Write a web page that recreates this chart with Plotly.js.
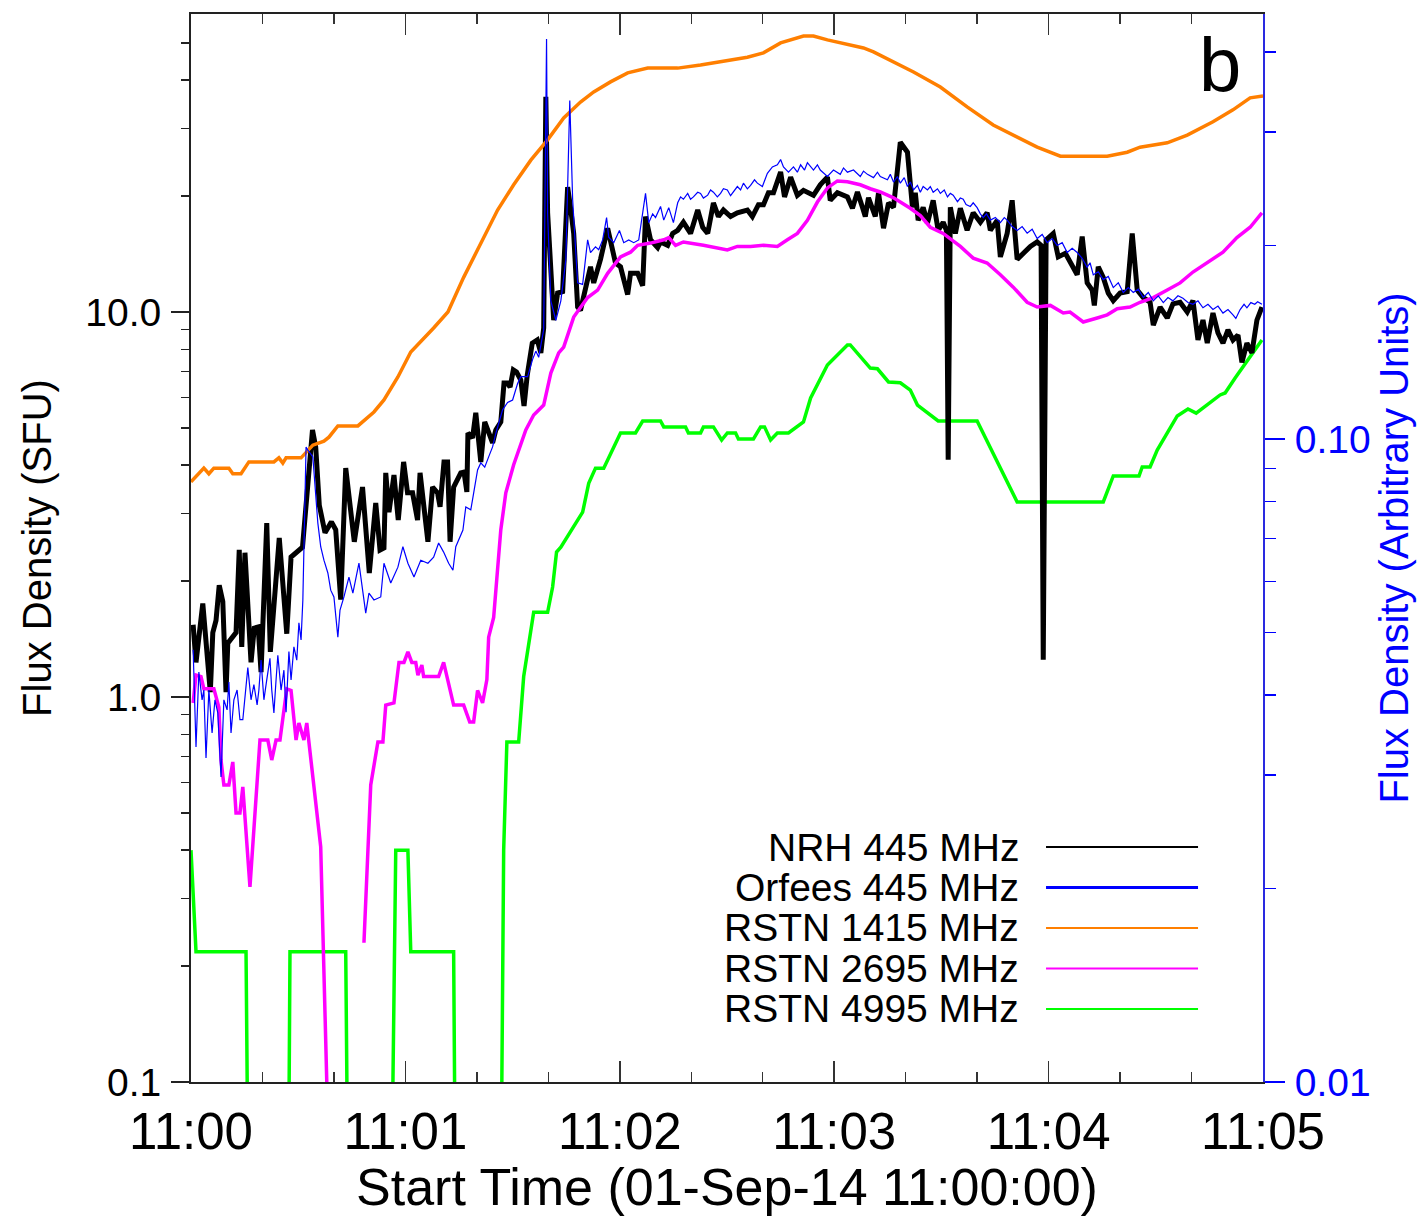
<!DOCTYPE html>
<html>
<head>
<meta charset="utf-8">
<script src="https://cdn.plot.ly/plotly-3.0.1.min.js"></script>
<style>
html,body{margin:0;padding:0;background:#ffffff;}
#chart{width:1420px;height:1216px;}
</style>
</head>
<body>
<div id="chart"></div>
<script>
// ---- data: [seconds after 11:00:00, flux] ----
const nrh445 = [[0.6,1.54],[1.4,1.23],[3.3,1.75],[5.4,1.03],[6.1,1.47],[7.0,1.58],[7.9,1.95],[8.9,1.77],[9.8,1.03],[10.3,1.38],
[12.6,1.47],[13.5,2.41],[14.2,1.35],[15.1,2.37],[16.8,1.23],[17.7,1.51],[18.8,1.52],[19.6,1.16],[21.2,2.83],[22.2,1.31],
[24.7,2.59],[26.8,1.46],[28.0,2.31],[29.4,2.38],[31.2,2.45],[34.0,4.94],[34.9,4.46],[35.9,3.15],[37.5,2.67],[39.3,2.85],
[40.5,2.72],[41.9,1.79],[43.3,3.93],[45.7,2.53],[48.0,3.51],[49.9,2.10],[51.7,3.19],[52.9,2.41],[54.0,2.44],[54.5,3.82],
[55.4,3.02],[56.8,3.77],[58.0,2.88],[59.5,4.08],[60.6,3.39],[62.0,3.39],[63.4,2.88],[64.1,3.82],[65.1,3.19],[66.3,2.53],
[67.6,3.51],[69.0,3.39],[69.7,3.12],[70.8,4.08],[71.8,4.08],[72.5,2.53],[73.5,3.51],[75.5,3.82],[76.4,3.84],[77.2,3.41],
[77.5,4.85],[78.8,4.71],[79.7,5.47],[81.1,4.08],[82.2,5.18],[83.7,4.79],[84.4,4.57],[85.3,4.94],[86.7,5.18],[87.6,6.54],
[88.5,6.54],[89.3,6.38],[90.2,7.07],[91.1,6.98],[92.3,6.66],[93.2,5.70],[94.1,6.86],[95.5,8.30],[96.9,8.46],[97.9,7.83],
[98.7,9.09],[99.3,36.2],[99.8,18.1],[101.5,9.53],[102.6,11.2],[104.0,11.3],[105.4,21.1],[106.2,18.7],[107.1,16.0],[108.2,10.3],[109.0,10.1],
[111.8,13.1],[112.7,11.9],[114.6,13.7],[116.6,16.5],[118.8,13.4],[120.2,13.1],[122.2,11.1],[123.0,12.6],[125.0,12.6],[126.4,11.7],
[127.2,17.7],[128.6,15.4],[130.6,14.7],[131.4,15.2],[133.4,14.9],[134.8,16.0],[136.2,16.3],[137.8,17.1],[139.8,16.0],[141.8,18.4],
[143.2,16.6],[144.6,16.0],[146.2,19.2],[147.6,17.7],[149.0,18.4],[151.0,17.7],[152.9,18.1],[155.7,18.4],[157.1,17.7],[158.8,19.0],
[160.2,19.0],[161.6,20.4],[163.0,20.4],[165.0,23.1],[166.1,19.9],[167.8,22.4],[169.7,20.1],[171.4,20.7],[174.2,20.1],[176.1,21.4],
[178.1,22.4],[178.9,19.5],[180.9,20.4],[183.7,19.9],[185.1,18.6],[186.5,20.5],[187.9,18.7],[188.7,17.7],[189.6,19.8],[191.5,17.7],
[192.4,20.4],[193.8,16.5],[195.2,19.2],[196.6,18.7],[198.5,27.6],[200.5,26.0],[201.9,18.7],[202.7,20.4],[203.5,17.3],[204.9,18.7],
[206.1,17.0],[207.7,19.5],[209.1,16.3],[210.5,17.1],[211.4,16.3],[211.9,4.13],[212.5,18.7],[213.9,16.0],[215.3,18.6],[217.2,16.3],
[218.9,18.1],[220.9,17.1],[222.8,18.1],[223.7,16.3],[225.6,17.3],[226.5,13.9],[228.4,16.0],[229.8,19.5],[231.2,13.7],[232.9,14.2],
[234.9,14.8],[236.8,15.2],[237.9,14.9],[238.5,1.25],[239.3,15.4],[241.3,16.0],[242.7,13.9],[244.7,14.2],[246.6,13.1],[248.0,12.5],
[249.4,15.7],[250.8,11.9],[252.2,11.4],[252.8,10.4],[253.9,13.1],[255.3,12.3],[256.7,11.2],[258.1,10.7],[260.0,11.2],[262.0,11.3],
[263.4,16.0],[264.8,11.4],[266.5,10.9],[268.4,10.6],[269.3,9.25],[271.2,10.3],[273.2,9.65],[274.8,10.5],[276.8,10.6],[278.8,10.0],
[280.4,10.7],[281.8,8.46],[283.2,9.53],[284.4,8.30],[286.0,9.94],[287.4,8.82],[288.8,8.30],[290.2,8.98],[291.6,8.46],[293.0,8.71],
[294.1,7.4],[295.5,8.30],[296.9,7.83],[298.3,9.53],[299.7,10.3]];

// Orfees 445 MHz, arbitrary units (right axis)
const orfees445 = [[0.6,0.0470],[1.4,0.0332],[2.2,0.0434],[3.1,0.0393],[3.6,0.0407],[4.2,0.0319],[5.0,0.0407],[5.9,0.0349],[6.7,0.0393],[7.5,0.0375],
[8.4,0.0298],[9.2,0.0393],[10.1,0.0379],[10.6,0.0419],[11.2,0.0349],[12.0,0.0393],[12.9,0.0407],[13.7,0.0366],[14.5,0.0366],[15.4,0.0407],
[15.9,0.0441],[16.8,0.0393],[17.6,0.0415],[18.5,0.0386],[19.0,0.0407],[19.6,0.0453],[20.4,0.0393],[21.2,0.0422],[22.1,0.0456],[22.6,0.0407],
[23.2,0.0375],[23.8,0.0422],[24.3,0.0461],[25.2,0.0407],[26.0,0.0437],[26.6,0.0376],[27.4,0.0467],[28.0,0.0422],[28.8,0.0475],[29.6,0.0453],
[30.2,0.0518],[30.8,0.0487],[31.3,0.0562],[32.2,0.0972],[32.7,0.0961],[34.1,0.0938],[35.5,0.0740],[36.3,0.0680],[37.2,0.0648],[38.3,0.0619],
[39.1,0.0582],[40.0,0.0568],[41.1,0.0492],[41.7,0.0542],[42.8,0.0568],[44.2,0.0610],[45.3,0.0576],[47.0,0.0641],[48.1,0.0582],[48.9,0.0536],
[49.8,0.0576],[51.2,0.0562],[53.1,0.0568],[54.0,0.0641],[55.9,0.0597],[57.9,0.0632],[59.3,0.0680],[60.7,0.0641],[62.4,0.0610],[64.3,0.0648],
[66.3,0.0641],[67.9,0.0655],[69.3,0.0689],[70.7,0.0667],[72.1,0.0641],[73.3,0.0625],[74.1,0.0680],[76.1,0.0722],[76.9,0.0784],[78.3,0.0776],
[79.1,0.0824],[80.2,0.0895],[81.1,0.0918],[82.2,0.0904],[83.3,0.0938],[84.4,0.0972],[85.3,0.102],[86.1,0.106],[87.2,0.111],[88.6,0.114],
[90.0,0.115],[91.4,0.122],[92.3,0.125],[94.2,0.125],[95.6,0.133],[96.5,0.137],[97.3,0.134],[98.7,0.148],[99.5,0.419],[99.8,0.224],
[100.7,0.164],[102.1,0.153],[103.5,0.164],[104.9,0.190],[106.0,0.336],[106.8,0.236],[108.2,0.175],[109.6,0.174],
[111.0,0.204],[111.8,0.195],[113.2,0.199],[114.1,0.197],[115.2,0.204],[116.3,0.221],[116.9,0.206],[118.3,0.202],[119.9,0.211],[121.1,0.202],
[122.5,0.204],[123.9,0.202],[125.3,0.204],[127.2,0.241],[128.1,0.217],[129.2,0.224],[130.0,0.221],[131.4,0.230],[132.3,0.219],[133.7,0.229],
[135.0,0.217],[136.2,0.233],[137.0,0.238],[137.8,0.236],[139.0,0.241],[139.8,0.236],[140.6,0.238],[141.8,0.242],[142.6,0.241],[143.4,0.237],
[144.6,0.2395],[145.4,0.244],[146.2,0.242],[147.3,0.238],[148.2,0.241],[149.0,0.245],[150.1,0.244],[151.0,0.239],[151.8,0.242],[152.9,0.247],
[153.8,0.244],[154.6,0.250],[155.7,0.245],[156.6,0.248],[157.7,0.253],[158.5,0.250],[159.9,0.247],[161.3,0.259],[162.7,0.265],[164.1,0.267],
[165.0,0.272],[165.8,0.265],[167.2,0.260],[168.6,0.265],[169.7,0.260],[170.6,0.267],[171.7,0.262],[172.5,0.269],[174.2,0.262],[175.3,0.267],
[176.1,0.262],[178.1,0.256],[179.8,0.262],[181.7,0.258],[182.6,0.264],[183.7,0.260],[185.4,0.262],[187.3,0.256],[188.2,0.261],[189.3,0.258],
[191.0,0.255],[192.1,0.260],[192.9,0.256],[194.9,0.253],[195.7,0.258],[196.6,0.251],[197.7,0.256],[198.5,0.250],[199.6,0.255],[200.5,0.247],
[201.3,0.251],[202.2,0.244],[203.3,0.248],[204.1,0.242],[204.9,0.247],[206.1,0.244],[206.9,0.247],[207.7,0.242],[208.9,0.245],[209.7,0.241],
[210.8,0.244],[211.7,0.238],[212.5,0.241],[213.3,0.2395],[214.5,0.234],[215.3,0.237],[216.1,0.236],[216.9,0.2315],[218.1,0.230],[218.9,0.233],
[220.0,0.229],[220.9,0.224],[221.7,0.221],[222.6,0.224],[223.7,0.219],[225.1,0.221],[226.5,0.217],[227.6,0.221],[228.4,0.219],[229.8,0.214],
[231.2,0.211],[232.6,0.214],[234.0,0.209],[235.4,0.212],[236.8,0.205],[238.2,0.208],[239.6,0.202],[241.0,0.205],[242.4,0.200],[243.8,0.202],
[245.2,0.195],[246.6,0.198],[248.0,0.195],[249.4,0.191],[250.8,0.185],[251.6,0.188],[252.5,0.180],[253.9,0.182],[255.3,0.177],[256.7,0.179],
[258.1,0.172],[259.5,0.175],[260.9,0.169],[262.3,0.172],[263.7,0.169],[265.1,0.171],[266.5,0.166],[267.9,0.169],[269.3,0.164],[270.7,0.167],
[272.1,0.163],[273.4,0.166],[274.8,0.164],[276.2,0.167],[277.6,0.1655],[279.0,0.163],[280.4,0.162],[281.8,0.164],[283.2,0.160],[284.6,0.162],
[286.0,0.159],[287.4,0.161],[288.8,0.157],[290.2,0.159],[291.6,0.156],[292.4,0.154],[293.6,0.159],[294.7,0.162],[295.5,0.160],[296.6,0.163],
[297.7,0.162],[298.5,0.1635],[299.7,0.162]];

const rstn1415 = [[0,3.62],[3.6,3.93],[5.0,3.80],[6.4,3.93],[10.6,3.93],[11.7,3.80],[14.0,3.80],[16.2,4.08],[23.2,4.08],[24.6,4.18],
[25.7,4.05],[26.6,4.18],[30.8,4.18],[34.1,4.51],[37.2,4.62],[38.6,4.73],[41.1,5.06],[46.7,5.06],[51.2,5.50],[54.0,5.91],
[57.9,6.78],[61.5,7.87],[67.9,9.09],[71.9,10.0],[76.3,12.3],[81.1,15.1],[85.8,18.4],[90.3,21.4],[95.1,24.8],[99.8,28.0],
[104.3,31.9],[109.0,35.1],[112.7,37.3],[117.4,39.6],[122.2,41.8],[127.8,43.0],[136.2,43.0],[142.6,43.8],[150.1,45.1],[155.7,45.9],
[160.2,47.1],[165.0,50.0],[171.4,52.1],[174.2,52.1],[178.1,50.9],[182.6,49.7],[188.2,48.5],[191.0,47.4],[196.6,44.6],[202.2,42.0],
[209.7,38.4],[217.2,34.1],[224.5,30.6],[230.1,28.8],[236.8,26.8],[243.3,25.4],[249.7,25.4],[256.4,25.4],[262.0,26.0],[265.6,26.8],
[273.2,27.5],[278.8,28.8],[286.0,31.2],[291.6,33.5],[296.4,36.0],[300,36.4]];

const rstn2695 = [[0.6,0.965],[1.4,1.14],[2.8,1.13],[3.6,1.05],[6.4,1.05],[7.8,0.94],[8.4,0.686],[9.2,0.591],[10.6,0.591],[11.7,0.678],
[12.6,0.500],[13.7,0.500],[14.5,0.584],[16.5,0.321],[19.3,0.773],[21.5,0.773],[22.6,0.686],[23.8,0.773],[24.9,0.773],[25.7,0.871],
[26.8,1.05],[28.0,1.04],[29.4,0.773],[30.2,0.856],[31.6,0.773],[32.4,0.856],[33.6,0.674],[36.3,0.408],[38.5,0.066],[43.0,null],
[48.4,0.230],[50.3,0.591],[52.3,0.764],[53.7,0.764],[54.5,0.953],[56.8,0.965],[58.2,1.23],[59.6,1.23],[60.7,1.31],[61.8,1.23],
[62.9,1.23],[63.5,1.14],[64.6,1.21],[65.1,1.13],[69.3,1.13],[70.7,1.23],[73.5,0.953],[76.3,0.953],[78.0,0.861],[79.1,0.861],
[80.2,1.04],[81.6,0.965],[82.8,1.11],[83.3,1.43],[84.7,1.61],[86.7,2.72],[88.1,3.39],[90.3,4.01],[93.7,4.94],[95.9,5.40],
[98.7,5.73],[100.7,6.94],[102.9,7.83],[104.3,8.11],[107.1,9.70],[111.0,10.9],[113.8,11.4],[116.6,12.6],[120.2,13.9],[123.0,14.3],
[125.0,14.9],[128.6,15.1],[132.3,15.4],[133.7,15.6],[135.6,14.9],[137.8,15.2],[143.4,14.9],[147.3,14.7],[150.1,14.5],[152.9,14.8],
[156.6,14.8],[160.2,14.9],[164.1,14.8],[166.9,15.4],[169.7,16.0],[172.5,17.3],[175.3,19.3],[178.1,21.0],[180.9,21.9],[183.7,21.8],
[187.3,21.4],[190.1,20.9],[192.9,20.5],[196.6,19.8],[201.3,18.6],[204.1,17.8],[206.9,16.6],[210.5,16.0],[215.3,14.8],[218.9,13.8],
[222.8,13.4],[226.5,12.5],[230.1,11.6],[234.0,10.6],[236.8,10.3],[240.5,10.4],[244.1,9.94],[246.0,10.0],[249.7,9.42],[253.6,9.65],
[256.4,9.83],[259.2,10.2],[262.8,10.3],[265.6,10.6],[269.3,10.9],[273.2,11.4],[276.8,11.9],[280.4,12.7],[284.4,13.4],[288.8,14.3],
[292.7,15.6],[296.4,16.6],[299.7,18.1]];

const rstn4995 = [[0,0.40],[1.4,0.218],[15.4,0.218],[16.4,0.02],[27.0,0.02],[27.7,0.218],[43.3,0.218],[44.3,0.02],[55.6,0.02],[57.3,0.40],
[60.7,0.40],[61.5,0.218],[73.5,0.218],[74.3,0.02],[86.4,0.02],[87.5,0.40],[88.4,0.764],[91.7,0.764],[93.1,1.13],[94.5,1.38],
[95.9,1.66],[99.8,1.66],[101.2,1.93],[102.3,2.38],[103.5,2.45],[109.6,3.02],[111.3,3.59],[113.2,3.93],[115.5,3.93],[120.2,4.85],
[124.4,4.85],[126.4,5.21],[131.4,5.21],[132.3,5.03],[138.4,5.03],[139.2,4.85],[142.6,4.85],[143.4,5.03],[146.2,5.03],[148.5,4.65],
[150.1,4.85],[152.4,4.85],[153.2,4.68],[157.4,4.68],[159.4,5.03],[160.5,5.03],[162.2,4.65],[164.1,4.85],[167.2,4.85],[171.4,5.18],
[173.4,5.98],[178.1,7.28],[183.7,8.21],[184.5,8.21],[190.1,7.15],[192.1,7.12],[195.2,6.58],[198.5,6.55],[201.3,6.27],[203.3,5.73],
[209.1,5.21],[220.0,5.21],[231.2,3.21],[255.3,3.21],[258.1,3.75],[265.3,3.75],[266.2,3.96],[268.4,3.96],[270.4,4.38],[276.0,5.37],
[279.0,5.60],[281.3,5.46],[288.0,6.09],[289.4,6.16],[292.2,6.74],[299.7,8.46]];

const seriesNames = ['NRH 445 MHz','Orfees 445 MHz','RSTN 1415 MHz','RSTN 2695 MHz','RSTN 4995 MHz'];
const timeTickSeconds = [0,60,120,180,240,300];
const timeTickLabels = ['11:00','11:01','11:02','11:03','11:04','11:05'];
const leftTickVals = [0.1,1,10];
const leftTickLabels = ['0.1','1.0','10.0'];
const rightTickVals = [0.01,0.1];
const rightTickLabels = ['0.01','0.10'];
const panelLabel = 'b';
const xTitle = 'Start Time (01-Sep-14 11:00:00)';
const yTitle = 'Flux Density (SFU)';
const y2Title = 'Flux Density (Arbitrary Units)';

// ---- styles ----
const colors = {nrh:'#000000', orf:'#0000ff', r1415:'#ff7f00', r2695:'#ff00ff', r4995:'#00ff00'};
const FONT = 'Liberation Sans, Arial, Helvetica, sans-serif';

function xs(a){return a.map(p=>p[0]);}
function ys(a){return a.map(p=>p[1]);}

const traces = [
  {x:xs(rstn4995), y:ys(rstn4995), mode:'lines', line:{color:colors.r4995,width:3.5}, name:seriesNames[4], connectgaps:false},
  {x:xs(nrh445), y:ys(nrh445), mode:'lines', line:{color:colors.nrh,width:5}, name:seriesNames[0]},
  {x:xs(rstn1415), y:ys(rstn1415), mode:'lines', line:{color:colors.r1415,width:3.5}, name:seriesNames[2]},
  {x:xs(rstn2695), y:ys(rstn2695), mode:'lines', line:{color:colors.r2695,width:3.5}, name:seriesNames[3], connectgaps:false},
  {x:xs(orfees445), y:ys(orfees445), mode:'lines', line:{color:colors.orf,width:1.2}, name:seriesNames[1], yaxis:'y2'}
];

// minor tick positions
const xMinor = [];
for (let s=20; s<300; s+=20){ if (s%60!==0) xMinor.push(s); }
const leftMinor = [];
[0.1,1,10].forEach(d=>{ for(let k=2;k<=9;k++){ const v=d*k; if(v<60) leftMinor.push(+(v.toPrecision(3))); } });
const rightMinor = [];
[0.01,0.1].forEach(d=>{ for(let k=2;k<=9;k++){ const v=d*k; if(v<0.46) rightMinor.push(+(v.toPrecision(3))); } });

// legend built from names/colors (text left of line sample)
const legendColors = [colors.nrh, colors.orf, colors.r1415, colors.r2695, colors.r4995];
const legendWidths = [2, 3, 2, 2, 2];
const rowY0 = 0.2200, rowStep = 0.0379;
const annotations = [];
const shapes = [];
seriesNames.forEach((nm,i)=>{
  const yy = rowY0 - i*rowStep;
  annotations.push({xref:'paper', yref:'paper', x:0.7742, y:yy, xanchor:'right', yanchor:'middle',
    text:nm, showarrow:false, font:{family:FONT, size:39, color:'#000'}});
  shapes.push({type:'line', xref:'paper', yref:'paper', x0:0.7976, x1:0.9394, y0:yy, y1:yy,
    line:{color:legendColors[i], width:legendWidths[i]}});
});
annotations.push({xref:'paper', yref:'paper', x:0.960, y:0.953, xanchor:'center', yanchor:'middle',
  text:panelLabel, showarrow:false, font:{family:FONT, size:76, color:'#000'}});

const layout = {
  width:1420, height:1216,
  margin:{l:191, r:157, t:14, b:134, pad:0},
  paper_bgcolor:'#ffffff', plot_bgcolor:'#ffffff',
  showlegend:false,
  font:{family:FONT, color:'#000'},
  xaxis:{
    range:[0,300], tickmode:'array', tickvals:timeTickSeconds, ticktext:timeTickLabels,
    ticks:'inside', ticklen:21, tickwidth:1.5, tickcolor:'#333',
    minor:{tickmode:'array', tickvals:xMinor, ticks:'inside', ticklen:10, tickwidth:1.5, tickcolor:'#333', showgrid:false},
    showline:true, linecolor:'#222', linewidth:2, mirror:'ticks',
    showgrid:false, zeroline:false,
    tickfont:{family:FONT, size:51, color:'#000'},
    ticklabelstandoff:4,
    title:{text:xTitle, font:{family:FONT, size:52, color:'#000'}, standoff:19},
    automargin:false
  },
  yaxis:{
    type:'log', range:[-1, 1.774], tickmode:'array', tickvals:leftTickVals, ticktext:leftTickLabels,
    ticks:'outside', ticklen:18, tickwidth:1.5, tickcolor:'#222',
    minor:{tickmode:'array', tickvals:leftMinor, ticks:'outside', ticklen:8, tickwidth:1.5, tickcolor:'#222', showgrid:false},
    showline:true, linecolor:'#222', linewidth:2, mirror:false,
    showgrid:false, zeroline:false,
    tickfont:{family:FONT, size:39, color:'#000'},
    ticklabelstandoff:2,
    title:{text:yTitle, font:{family:FONT, size:40, color:'#000'}, standoff:21},
    automargin:false
  },
  yaxis2:{
    type:'log', range:[-2, -0.339], overlaying:'y', side:'right', anchor:'x',
    tickmode:'array', tickvals:rightTickVals, ticktext:rightTickLabels,
    ticks:'outside', ticklen:20, tickwidth:1.5, tickcolor:'#0000ff',
    minor:{tickmode:'array', tickvals:rightMinor, ticks:'outside', ticklen:11, tickwidth:1.5, tickcolor:'#0000ff', showgrid:false},
    showline:true, linecolor:'#2a2ae0', linewidth:2,
    showgrid:false, zeroline:false,
    tickfont:{family:FONT, size:39, color:'#0000ff'},
    ticklabelstandoff:2,
    title:{text:y2Title, font:{family:FONT, size:40, color:'#0000ff'}, standoff:10},
    automargin:false
  },
  annotations:annotations,
  shapes:shapes
};

Plotly.newPlot('chart', traces, layout, {displayModeBar:false, staticPlot:true});
</script>
</body>
</html>
